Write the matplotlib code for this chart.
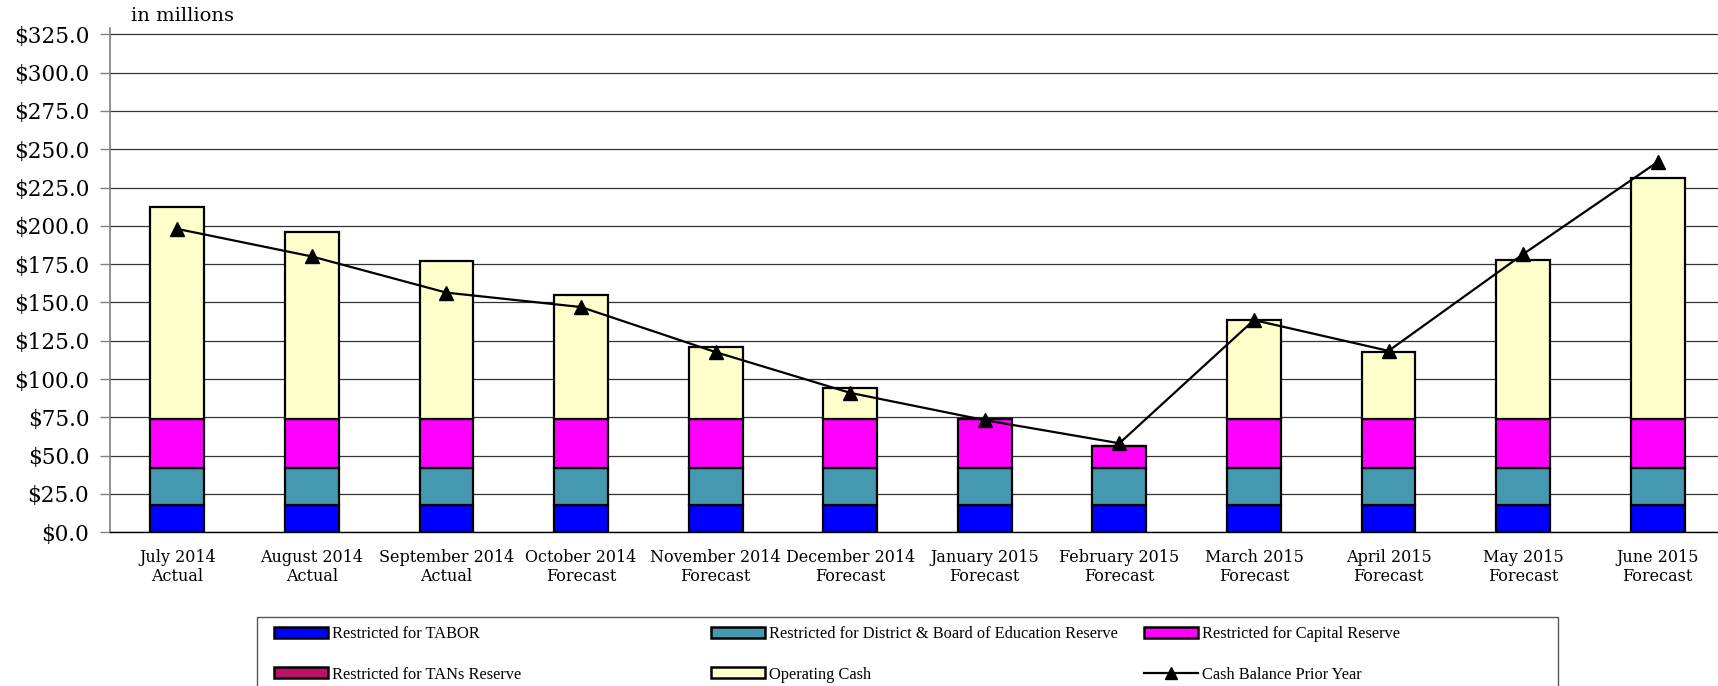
import matplotlib
matplotlib.use("Agg")
import matplotlib.pyplot as plt
import numpy as np
from matplotlib.lines import Line2D
from matplotlib.patches import Patch, Rectangle

months = ["July 2014\nActual", "August 2014\nActual", "September 2014\nActual",
          "October 2014\nForecast", "November 2014\nForecast", "December 2014\nForecast",
          "January 2015\nForecast", "February 2015\nForecast", "March 2015\nForecast",
          "April 2015\nForecast", "May 2015\nForecast", "June 2015\nForecast"]

tabor = [17.8] * 12
district = [24.0] * 12
capital = [32.0, 32.0, 32.0, 32.0, 32.0, 32.0, 32.0, 14.5, 32.0, 32.0, 32.0, 32.0]
tans = [0.0] * 12
operating = [138.5, 122.0, 103.4, 81.2, 47.4, 20.2, 0.0, 0.0, 64.7, 43.8, 104.1, 157.2]
prior_year = [198.0, 180.0, 156.4, 147.0, 117.6, 91.0, 73.2, 58.1, 138.5, 118.4, 181.5, 241.7]

yticks = np.arange(0, 326, 25)

series = [
    ("Restricted for TABOR", tabor, "#0000FF"),
    ("Restricted for District & Board of Education Reserve", district, "#4499B0"),
    ("Restricted for Capital Reserve", capital, "#FF00FF"),
    ("Restricted for TANs Reserve", tans, "#BB1166"),
    ("Operating Cash", operating, "#FFFFCC"),
]

W, H = 1718, 686
fig = plt.figure(figsize=(W / 100, H / 100), dpi=100)
ax = fig.add_axes([110 / W, (H - 532.3) / H, 1615 / W, 504.6 / H])

x = np.arange(len(months))
bottom = np.zeros(len(months))
for name, vals, col in series:
    v = np.array(vals)
    ax.bar(x, v, width=0.40, bottom=bottom, color=col, edgecolor="black",
           linewidth=1.6 if v.any() else 0, zorder=3)
    bottom += v

ax.plot(x, prior_year, color="black", linewidth=1.6, marker="^", markersize=10,
        zorder=4)

ax.set_xlim(-0.5, 11.5)
ax.set_ylim(0, 329.3)
ax.set_yticks(yticks)
ax.set_yticklabels([f"${t:.1f}" for t in yticks], family="DejaVu Serif", fontsize=15.5)
ax.set_xticks(x)
ax.set_xticklabels(months, family="DejaVu Serif", fontsize=11.5, linespacing=1.15)
ax.tick_params(axis="x", length=0, pad=12)
ax.tick_params(axis="y", length=7, width=1, color="#808080", pad=8)
ax.yaxis.grid(True, color="#333333", linewidth=0.9, zorder=0)
ax.set_axisbelow(True)
for s in ["top", "right"]:
    ax.spines[s].set_visible(False)
ax.spines["left"].set_color("#808080")
ax.spines["left"].set_linewidth(1.2)
ax.spines["bottom"].set_color("black")
ax.spines["bottom"].set_linewidth(1.0)

fig.text(131 / W, 1 - 16 / H, "in millions", family="DejaVu Serif", fontsize=14,
         va="center", ha="left")

# Legend frame
fig.patches.append(Rectangle((257 / W, -0.05), (1558 - 257) / W, 0.05 + (H - 617) / H,
                             transform=fig.transFigure, fill=False,
                             edgecolor="#555555", linewidth=1.0))

def ph(col):
    return Patch(facecolor=col, edgecolor="black", linewidth=1.8)

cols = [
    ([ph(series[0][2]), ph(series[3][2])], [series[0][0], series[3][0]], 274),
    ([ph(series[1][2]), ph(series[4][2])], [series[1][0], series[4][0]], 711),
    ([ph(series[2][2]), Line2D([], [], color="black", linewidth=1.6, marker="^",
                               markersize=8)],
     [series[2][0], "Cash Balance Prior Year"], 1144),
]
for handles, labels, xpos in cols:
    fig.legend(handles, labels, loc="upper left",
               bbox_to_anchor=(xpos / W, (H - 626) / H), frameon=False,
               borderpad=0, borderaxespad=0, handlelength=3.3, handleheight=0.65,
               handletextpad=0.25, labelspacing=1.5, numpoints=1,
               prop={"family": "Liberation Serif", "size": 11.8})

fig.savefig("out.png", dpi=100)
